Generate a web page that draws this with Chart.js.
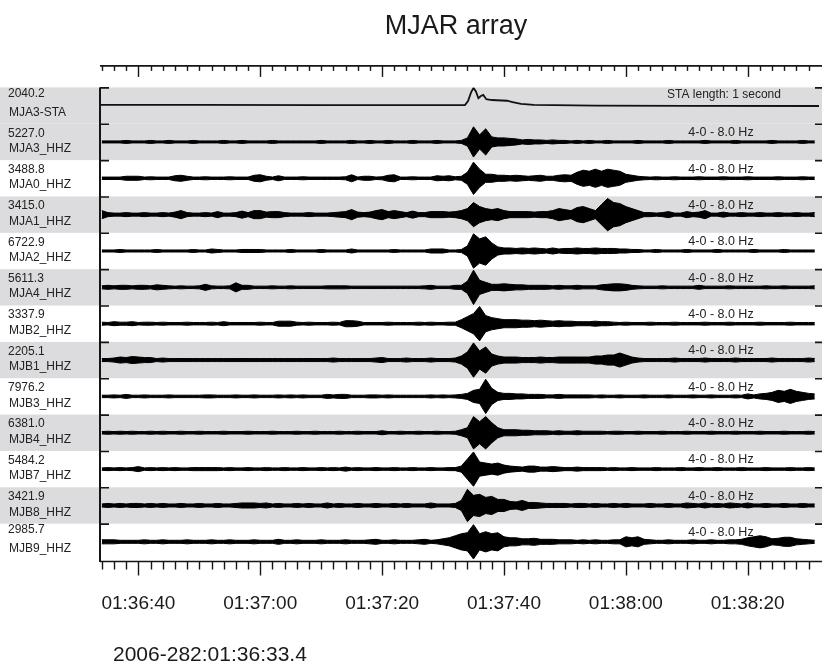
<!DOCTYPE html>
<html>
<head>
<meta charset="utf-8">
<script src="https://cdn.jsdelivr.net/npm/chart.js@4.4.1/dist/chart.umd.min.js"></script>
<style>
  html, body { margin: 0; padding: 0; background: #fff; }
  #wrap { width: 822px; height: 664px; }
</style>
</head>
<body>
<div id="wrap"><canvas id="seis" width="822" height="664"></canvas></div>
<script>
// station labels, top to bottom
const stationNames = ['MJA3-STA', 'MJA3_HHZ', 'MJA0_HHZ', 'MJA1_HHZ', 'MJA2_HHZ', 'MJA4_HHZ', 'MJB2_HHZ',
  'MJB1_HHZ', 'MJB3_HHZ', 'MJB4_HHZ', 'MJB7_HHZ', 'MJB8_HHZ', 'MJB9_HHZ'];
const stationValues = ['2040.2', '5227.0', '3488.8', '3415.0', '6722.9', '5611.3', '3337.9',
  '2205.1', '7976.2', '6381.0', '5484.2', '3421.9', '2985.7'];
const bandLabel = '4-0 - 8.0 Hz';
const staLabel = 'STA length: 1 second';

// time axis, seconds after 01:36:00
const T_START = 33.7;
const T_END = 151.7;
const tickSeconds = [40, 60, 80, 100, 120, 140];
const tickLabels = ['01:36:40', '01:37:00', '01:37:20', '01:37:40', '01:38:00', '01:38:20'];
const startLabel = '2006-282:01:36:33.4';

// STA trace (clip = 18)
const staTimes = [33.7, 50, 70, 90, 93.6, 94.1, 94.6, 95.0, 95.4, 95.8, 96.2, 96.6, 97.1, 98.0, 100.5, 101.4, 102.8, 104.9, 115, 130, 151.7];
const staValues = [0.6, 0.6, 0.5, 0.5, 0.5, 4.5, 13, 17.5, 14, 7.3, 9.5, 10.6, 6.3, 5.5, 4.8, 3.5, 1.6, 0.6, 0, -0.2, -0.4];

// envelope amplitude of each filtered trace, one value per second from 01:36:34 (clip = 18)
const SAMPLE_T0 = 34;
const CLIP = 18;
const mja3 = [
  1, 1, 1, 1, 1.5, 1, 1, 1, 1.5, 1, 1, 1.5, 1, 1, 1, 1.5, 1, 1, 1, 1,
  1.5, 1, 1, 1.5, 1, 1, 1, 1, 1.5, 1, 1, 1, 1, 1, 1, 1, 1.5, 1, 1, 1,
  1, 1.5, 1, 1, 1.5, 1, 1, 1.5, 1, 1, 1, 1.5, 1, 1, 1, 1.5, 1, 1, 1, 1.5,
  4, 15, 7, 13, 5, 4, 4, 3.5, 3, 2, 2.5, 2, 2, 1.5, 2, 1.5, 1.5, 1, 1.5, 1,
  1.5, 1, 1, 1.5, 1, 1, 1, 1, 1.5, 1, 1, 1, 1, 1.5, 1, 1, 1, 1, 1, 1.5,
  1, 1, 1, 1, 1.5, 1, 1, 1, 1, 1, 1.5, 1, 1, 1, 1, 1.5, 1, 1];
const mja0 = [
  1.2, 1.2, 1.2, 1.2, 2, 2, 2, 1.2, 1.5, 1.2, 1.2, 1.2, 2.5, 3, 2, 1.2, 1.2, 1.5, 1.2, 1.2,
  1.2, 1.5, 1.2, 1.2, 1.2, 3, 3.5, 2, 1.2, 2.5, 1.2, 1.2, 1.2, 1.5, 1.2, 1.2, 1.2, 1.2, 1.2, 1.2,
  1.5, 3.5, 1.2, 2, 2, 1.2, 1.5, 3, 3.5, 1.2, 1.2, 1.5, 1.2, 1.2, 1.2, 2.5, 2, 2.5, 1.5, 2,
  6, 16, 9, 4, 4, 3, 3, 2.5, 3, 2.5, 2, 2.5, 3, 2, 2, 3, 3.5, 3, 6, 8,
  7, 9, 7, 9, 8, 7, 4, 3, 2, 1.5, 1.2, 1.5, 1.2, 1.2, 1.5, 1.2, 1.2, 1.2, 1.5, 1.2,
  1.2, 1.2, 1.5, 1.2, 1.2, 1.2, 1.5, 1.2, 1.2, 1.2, 1.2, 1.5, 1.2, 1.2, 1.2, 1.5, 1.2, 1.2];
const mja1 = [
  4, 2, 1.5, 1.5, 2, 1.5, 1.5, 2, 1.5, 1.5, 2, 1.5, 2.5, 4, 2, 1.5, 1.5, 2, 1.5, 3,
  1.5, 1.5, 2, 3.5, 2, 4, 4, 2.5, 3, 3, 2, 1.5, 1.5, 1.5, 2, 1.5, 1.5, 1.5, 2, 2.5,
  3, 5, 2.5, 2, 2.5, 4, 5, 3, 4, 3, 2, 3.5, 2, 2, 3, 3, 3, 2.5, 3, 4,
  6, 12, 8, 6, 5, 6, 4, 3, 3, 3, 3, 2.5, 3, 3, 4, 6, 5, 4, 7, 8,
  6, 4, 10, 16, 12, 11, 8, 6, 4, 2, 2, 1.5, 2, 3, 1.5, 1.5, 3, 2, 2.5, 4,
  1.5, 1.5, 2.5, 1.5, 1.5, 2, 1.5, 1.5, 2, 1.5, 1.5, 2, 1.5, 1.5, 2, 1.5, 1.5, 2];
const mja2 = [
  1, 1, 1, 1.5, 1, 1, 1, 1, 1, 1.5, 1, 1, 1, 1, 1, 1.5, 1, 1, 2, 1.5,
  1, 1, 1, 1.5, 1.5, 1.5, 1.5, 1, 1, 1, 1, 1.5, 1, 1, 1, 1, 1.5, 1, 1, 1,
  1, 2, 1, 1, 1, 1, 1, 1, 1.5, 1, 1, 1, 1, 1, 2, 2, 2, 1, 1, 1.5,
  5, 17, 12, 14, 8, 4, 3, 3, 2.5, 3, 2.5, 3, 2.5, 2, 3, 2, 2.5, 2.5, 3, 2.5,
  2.5, 3, 2.5, 2.5, 2.5, 2, 2, 1.5, 1.5, 1, 1, 1.5, 1, 1, 1, 1, 1.5, 1, 1, 1,
  1, 1.5, 1, 1, 1, 1, 1, 1.5, 1, 1, 1, 1, 1.5, 1, 1, 1, 1, 1];
const mja4 = [
  1.5, 2, 1.5, 2, 2, 1.5, 2, 2, 1.5, 2.5, 2, 1.5, 1.2, 1.5, 1.2, 1.2, 1.5, 3, 1.5, 1.2,
  1.2, 1.5, 4.5, 2, 2, 1.2, 1.2, 1.2, 1.5, 1.2, 1.2, 1.5, 1.2, 1.2, 1.2, 1.2, 1.2, 1.5, 1.5, 1.5,
  1.5, 1.2, 1.2, 1.2, 1.2, 1.2, 1.2, 1.2, 1.2, 1.2, 1.2, 1.2, 1.2, 1.5, 2, 1.2, 1.2, 1.2, 2, 2,
  6, 17, 7, 5, 3, 3, 3.5, 3, 2.5, 2.5, 2, 2, 2, 2, 1.5, 2, 1.5, 1.5, 2, 1.5,
  1.5, 1.5, 2.5, 3, 3.5, 3.5, 3, 2, 1.5, 1.2, 1.2, 1.2, 1.5, 1.2, 1.2, 1.2, 1.2, 1.2, 2, 1.2,
  1.2, 1.2, 1.2, 1.5, 1.2, 1.2, 1.2, 1.2, 1.2, 1.5, 1.2, 1.2, 1.5, 1.2, 1.2, 1.2, 1.2, 1.5];
const mjb2 = [
  1.5, 1.2, 2, 1.5, 1.5, 2, 1.2, 1.5, 1.5, 1.2, 1.5, 1.2, 1.2, 1.2, 1.5, 1.2, 1.2, 1.2, 1.5, 1.2,
  2, 1.2, 1.2, 1.2, 1.2, 1.2, 1.5, 1.2, 1.2, 2.5, 2.5, 2.5, 1.5, 1.2, 1.5, 1.2, 1.2, 1.2, 1.5, 1.2,
  3, 3, 2.5, 1.2, 1.2, 1.2, 1.2, 1.5, 1.2, 1.2, 1.2, 1.2, 1.5, 1.2, 1.5, 1.2, 1.2, 1.5, 1.5, 4,
  7, 10, 17, 8, 6, 5, 4, 4, 4, 3.5, 3.5, 3, 3.5, 3, 2.5, 3, 2.5, 2.5, 2, 2,
  2, 2.5, 2, 2, 1.5, 1.2, 1.5, 1.2, 1.2, 1.2, 1.5, 1.2, 1.2, 1.2, 1.5, 1.2, 1.2, 1.2, 1.2, 1.5,
  1.2, 1.2, 1.2, 1.5, 1.2, 1.2, 1.2, 1.2, 1.5, 1.2, 1.2, 1.2, 1.2, 1.5, 1.2, 1.2, 1.2, 1.2];
const mjb1 = [
  1.5, 1.5, 2, 3, 2.5, 3.5, 3, 2.5, 2.5, 1.5, 2, 1.5, 1.5, 1.5, 1.5, 1.5, 1.5, 1.5, 1.5, 1.5,
  1.5, 1.5, 1.5, 1.5, 1.5, 1.5, 1.5, 1.5, 1.5, 1.5, 1.5, 1.5, 1.5, 1.5, 1.5, 1.5, 1.5, 1.5, 2, 1.5,
  1.5, 1.5, 1.5, 1.5, 1.5, 2, 2.5, 1.5, 1.5, 1.5, 2, 1.5, 1.5, 1.5, 2, 1.5, 1.5, 1.5, 2, 4,
  8, 17, 9, 13, 6, 4, 3, 3, 3, 2.5, 2.5, 2.5, 3, 2.5, 2.5, 3, 3, 3, 3, 3,
  3, 4, 4, 5, 5, 7, 5, 3, 2, 1.5, 1.5, 1.5, 1.5, 1.5, 2, 1.5, 1.5, 1.5, 1.5, 2,
  1.5, 1.5, 1.5, 1.5, 2, 1.5, 1.5, 1.5, 1.5, 1.5, 2, 1.5, 1.5, 1.5, 1.5, 1.5, 2, 1.5];
const mjb3 = [
  1.2, 1.2, 1.5, 1.2, 2, 1.2, 1.2, 1.5, 1.2, 1.2, 1.2, 1.5, 1.2, 1.2, 1.2, 1.2, 1.2, 1.5, 1.5, 1.2,
  1.2, 1.2, 1.5, 1.2, 1.2, 1.5, 1.2, 1.2, 1.2, 1.5, 1.2, 1.5, 1.2, 1.5, 1.2, 1.2, 1.2, 2, 1.5, 2,
  2, 1.2, 1.2, 1.2, 1.5, 1.5, 1.2, 1.5, 1.2, 1.2, 1.2, 1.2, 1.2, 1.2, 1.5, 1.2, 1.5, 1.2, 1.5, 2,
  3, 6, 7, 17, 8, 4, 3, 3, 2.5, 2.5, 2, 2, 2, 1.5, 1.5, 2, 1.5, 1.5, 1.5, 1.5,
  1.5, 1.2, 1.5, 1.2, 1.2, 1.5, 1.2, 1.2, 1.2, 1.5, 1.2, 1.2, 1.2, 1.5, 1.2, 1.2, 1.2, 1.5, 1.2, 1.2,
  1.5, 1.2, 1.2, 1.2, 1.5, 1.2, 2.5, 1.5, 2.5, 3, 4, 6, 5, 7, 5, 4, 3, 2.5];
const mjb4 = [
  1.2, 1.5, 1.2, 1.5, 1.2, 1.5, 1.2, 1.2, 1.5, 1.2, 1.5, 1.2, 1.2, 1.5, 1.2, 1.2, 1.5, 1.2, 1.2, 1.2,
  1.5, 1.2, 1.2, 1.2, 1.5, 1.2, 1.2, 1.2, 1.5, 1.2, 1.2, 1.2, 1.5, 1.2, 1.2, 1.5, 1.2, 1.2, 1.2, 1.5,
  1.2, 1.2, 1.5, 1.2, 1.2, 1.2, 2, 1.2, 1.2, 1.5, 1.2, 1.2, 1.5, 1.2, 1.2, 1.5, 1.2, 1.2, 1.5, 3,
  5, 16, 11, 16, 10, 5, 3, 3, 3, 2.5, 2.5, 2, 2, 2, 1.5, 2, 1.5, 1.5, 2, 1.5,
  1.5, 1.5, 1.5, 1.2, 1.5, 1.5, 1.2, 1.2, 1.5, 1.2, 1.2, 1.2, 1.5, 1.2, 1.2, 1.2, 1.5, 1.2, 1.2, 1.2,
  1.5, 1.2, 1.2, 1.2, 1.5, 1.2, 1.2, 1.2, 1.5, 1.2, 1.2, 1.2, 1.5, 1.2, 1.2, 1.2, 1.5, 1.2];
const mjb7 = [
  1.2, 1.5, 1.2, 1.5, 1.2, 1.5, 2.5, 1.2, 1.5, 1.2, 1.5, 1.2, 1.5, 1.2, 1.2, 1.5, 1.5, 1.5, 1.5, 1.5,
  1.2, 1.5, 1.2, 1.2, 1.5, 1.2, 1.2, 1.5, 1.2, 1.2, 1.5, 1.2, 1.2, 1.5, 1.2, 1.2, 1.5, 1.2, 1.5, 1.2,
  2, 1.2, 1.5, 1.2, 1.2, 1.5, 1.2, 1.2, 1.5, 1.2, 1.2, 1.5, 1.2, 1.2, 1.5, 1.2, 1.2, 1.5, 1.5, 3,
  10, 17, 7, 6, 5, 6, 4, 3, 2.5, 2, 3, 3, 2, 2, 2.5, 2, 1.5, 1.5, 2, 1.5,
  1.5, 1.5, 1.5, 1.2, 1.5, 1.2, 1.2, 1.5, 1.2, 1.2, 1.2, 1.5, 1.2, 1.2, 1.2, 1.5, 1.2, 1.2, 1.5, 1.2,
  1.2, 1.5, 1.2, 1.2, 1.2, 1.5, 1.2, 1.2, 1.2, 1.5, 1.2, 1.2, 1.2, 1.5, 1.2, 1.2, 1.5, 1.2];
const mjb8 = [
  1.5, 2, 1.5, 2, 1.5, 2, 2, 1.5, 2, 1.5, 2, 1.5, 1.5, 2, 1.5, 1.5, 2, 1.5, 1.5, 2,
  1.5, 1.5, 2, 2.5, 2.5, 2.5, 2, 2.5, 1.5, 2, 1.5, 1.5, 2, 1.5, 2, 1.5, 1.5, 2.5, 1.5, 2,
  1.5, 1.5, 2, 1.5, 1.5, 2, 1.5, 1.5, 2, 1.5, 2, 1.5, 1.5, 1.5, 2.5, 1.5, 1.5, 1.5, 2, 5,
  16, 10, 11, 8, 9, 6, 6, 4, 3.5, 5, 3, 3, 2.5, 2, 2, 2, 2, 1.5, 2, 2,
  1.5, 2, 1.5, 1.5, 2, 1.5, 2, 1.5, 1.5, 1.5, 2, 1.5, 1.5, 2, 1.5, 1.5, 2.5, 2, 1.5, 2.5,
  1.5, 2, 1.5, 2.5, 2, 1.5, 2.5, 1.5, 1.5, 2, 1.5, 1.5, 2, 1.5, 1.5, 2, 1.5, 1.5];
const mjb9 = [
  2, 2, 2, 1.5, 1.5, 1.5, 1.5, 2, 1.5, 1.5, 2, 1.5, 1.5, 1.5, 2, 1.5, 1.5, 1.5, 2, 1.5,
  1.5, 2, 1.5, 1.5, 1.5, 2, 1.5, 1.5, 1.5, 2.5, 1.5, 1.5, 2, 1.5, 1.5, 1.5, 2, 1.5, 1.5, 1.5,
  2, 1.5, 1.5, 1.5, 2, 2.5, 1.5, 1.5, 2, 1.5, 1.5, 1.5, 2, 2.5, 1.5, 2, 3, 4, 6, 8,
  9, 17, 8, 10, 8, 9, 5, 4, 4, 3, 3, 3.5, 2.5, 2.5, 2.5, 2, 2, 2, 1.5, 2,
  1.5, 2, 1.5, 1.5, 2, 2, 5, 4, 5, 2.5, 2, 1.5, 1.5, 2, 1.5, 1.5, 1.5, 2, 1.5, 1.5,
  2, 1.5, 1.5, 2, 2, 2.5, 4, 5, 6, 5, 3, 3.5, 4.5, 4.5, 3, 2.5, 2, 1.5];

const traces = [mja3, mja0, mja1, mja2, mja4, mjb2, mjb1, mjb3, mjb4, mjb7, mjb8, mjb9];

const FONT = '"Liberation Sans", Arial, sans-serif';

// build the line datasets: STA curve, then an upper/lower filled envelope for each trace
const datasets = [{
  data: staTimes.map((t, i) => ({ x: t, y: 0.5 - staValues[i] / (2 * CLIP) })),
  borderColor: '#111', borderWidth: 1.8, pointRadius: 0, fill: false
}];
traces.forEach((amp, n) => {
  const mid = n + 1.5;
  datasets.push({
    data: amp.map((a, i) => ({ x: SAMPLE_T0 + i, y: mid - a / (2 * CLIP) })),
    borderColor: '#000', borderWidth: 1, pointRadius: 0, fill: false
  });
  datasets.push({
    data: amp.map((a, i) => ({ x: SAMPLE_T0 + i, y: mid + a / (2 * CLIP) })),
    borderColor: '#000', borderWidth: 1, pointRadius: 0, fill: '-1', backgroundColor: '#000'
  });
});

const framePlugin = {
  id: 'frame',
  beforeDatasetsDraw(chart) {
    const { ctx, scales: { y } } = chart;
    ctx.save();
    ctx.fillStyle = '#dcdcde';
    stationNames.forEach((name, k) => {
      if (k === 0 || k % 2 === 1) {
        const top = y.getPixelForValue(k);
        const bot = y.getPixelForValue(k + 1);
        ctx.fillRect(0, top, chart.width, bot - top);
      }
    });
    ctx.restore();
  },
  afterDraw(chart) {
    const { ctx, chartArea: a, scales: { x, y } } = chart;
    ctx.save();
    ctx.strokeStyle = '#151515';
    ctx.fillStyle = '#1a1a1a';

    // left frame line and row ticks
    ctx.lineWidth = 2;
    ctx.beginPath();
    ctx.moveTo(a.left, y.getPixelForValue(0));
    ctx.lineTo(a.left, a.bottom + 2);
    ctx.stroke();
    ctx.lineWidth = 1.6;
    for (let k = 0; k < stationNames.length; k++) {
      const yy = y.getPixelForValue(k) + 0.5;
      ctx.beginPath();
      ctx.moveTo(a.left, yy); ctx.lineTo(a.left + 9, yy);
      ctx.moveTo(chart.width - 7, yy); ctx.lineTo(chart.width, yy);
      ctx.stroke();
    }

    // time axes on top and bottom
    const axes = [
      { y0: a.top - 21.5, minor: 5, major: 11 },
      { y0: a.bottom + 1.5, minor: 8, major: 14 }
    ];
    axes.forEach(ax => {
      ctx.lineWidth = 1.6;
      ctx.beginPath();
      ctx.moveTo(a.left, ax.y0); ctx.lineTo(chart.width, ax.y0);
      ctx.stroke();
      ctx.lineWidth = 1.4;
      for (let s = Math.ceil(T_START / 2) * 2; s <= T_END; s += 2) {
        const px = Math.round(x.getPixelForValue(s)) + 0.5;
        const len = tickSeconds.includes(s) ? ax.major : ax.minor;
        ctx.beginPath();
        ctx.moveTo(px, ax.y0); ctx.lineTo(px, ax.y0 + len);
        ctx.stroke();
      }
    });

    // tick labels and start time
    ctx.textBaseline = 'middle';
    ctx.textAlign = 'center';
    ctx.font = '19px ' + FONT;
    tickSeconds.forEach((s, i) => ctx.fillText(tickLabels[i], x.getPixelForValue(s), a.bottom + 44));
    ctx.textAlign = 'left';
    ctx.font = '21px ' + FONT;
    ctx.fillText(startLabel, 113, a.bottom + 95);

    // title
    ctx.textAlign = 'center';
    ctx.font = '27px ' + FONT;
    ctx.fillText('MJAR array', 456, 27);

    // station labels
    ctx.textAlign = 'left';
    ctx.font = '12px ' + FONT;
    ctx.fillStyle = '#222';
    stationNames.forEach((name, k) => {
      const top = y.getPixelForValue(k);
      const vOff = (k === 0 || k === stationNames.length - 1) ? 6 : 9.5;
      ctx.fillText(stationValues[k], 8, top + vOff);
      ctx.fillText(name, 9, top + 25);
    });

    // filter / STA notes
    ctx.textAlign = 'center';
    ctx.font = '12px ' + FONT;
    ctx.fillText(staLabel, 724, y.getPixelForValue(0) + 7);
    ctx.font = '12.5px ' + FONT;
    for (let k = 1; k < stationNames.length; k++) {
      ctx.fillText(bandLabel, 721, y.getPixelForValue(k) + 9);
    }
    ctx.restore();
  }
};

new Chart(document.getElementById('seis'), {
  type: 'line',
  data: { datasets },
  options: {
    responsive: false,
    devicePixelRatio: 1,
    animation: false,
    layout: { padding: { left: 100, right: 3, top: 87.4, bottom: 104 } },
    elements: { line: { tension: 0 } },
    scales: {
      x: { type: 'linear', min: T_START, max: T_END, display: false },
      y: { type: 'linear', min: 0, max: stationNames.length, reverse: true, display: false }
    },
    plugins: { legend: { display: false }, tooltip: { enabled: false } }
  },
  plugins: [framePlugin]
});
</script>
</body>
</html>
